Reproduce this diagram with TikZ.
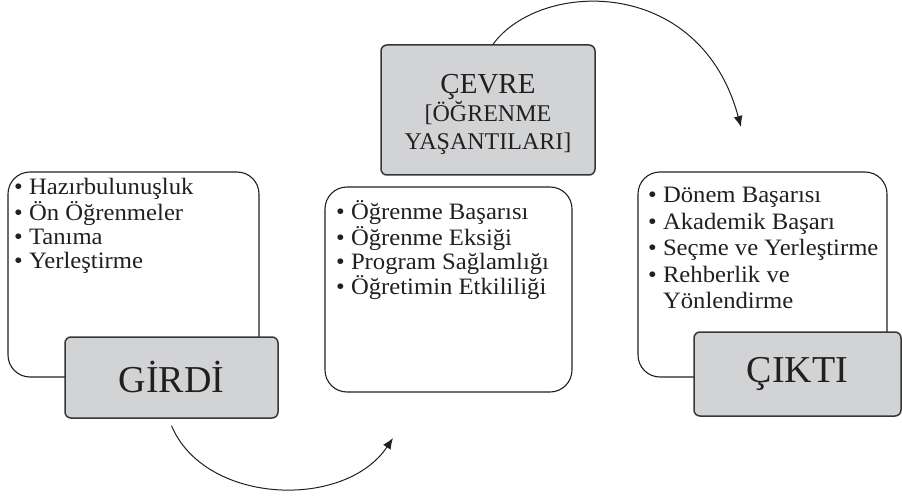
\documentclass[tikz,border=0pt]{standalone}
\usepackage{fontspec}
\usepackage{graphicx}
\setmainfont{Liberation Serif}
\usetikzlibrary{arrows.meta}
\definecolor{boxgray}{RGB}{209,211,212}
\definecolor{lineblk}{RGB}{35,31,32}
\definecolor{grayline}{RGB}{55,55,55}
\newcommand\itm[1]{\hbox{\textbullet\ #1}}
\newcommand\itc[1]{\hbox{\hphantom{\textbullet\ }#1}}
\newcommand\wide[1]{\scalebox{1.05}[1]{#1}}
\begin{document}
\begin{tikzpicture}[x=1pt,y=-1pt,
  whitebox/.style={draw=lineblk, line width=1.1pt, rounded corners=22pt, fill=white, inner sep=0pt},
  graybox/.style={draw=grayline, line width=1.5pt, rounded corners=6pt, fill=boxgray, inner sep=0pt, text=lineblk},
  listtext/.style={anchor=base west, inner sep=0pt, text=lineblk, font=\fontsize{23.5}{24}\selectfont},
  bigtext/.style={font=\fontsize{38}{42}\selectfont},
  arr/.style={draw=lineblk, line width=1pt, -{Latex[length=11pt,width=9pt]}}]
\useasboundingbox (0,0) rectangle (902,497);

% white boxes
\node[whitebox, minimum width=251pt, minimum height=205pt] (inL) at (133.5,274.5) {};
\node[whitebox, minimum width=247pt, minimum height=205pt] (inM) at (448.5,289.5) {};
\node[whitebox, minimum width=249pt, minimum height=205pt] (inR) at (762.5,274.5) {};

% lists
\node[listtext] (listL) at (14,195) {\wide{\vtop{\itm{Hazırbulunuşluk}\itm{Ön Öğrenmeler}\itm{Tanıma}\itm{Yerleştirme}}}};
\node[listtext] (listM) at (336,220) {\wide{\vtop{\itm{Öğrenme Başarısı}\itm{Öğrenme Eksiği}\itm{Program Sağlamlığı}\itm{Öğretimin Etkililiği}}}};
\node[listtext, font=\fontsize{23.5}{26.5}\selectfont] (listR) at (648,203) {\wide{\vtop{\itm{Dönem Başarısı}\itm{Akademik Başarı}\itm{Seçme ve Yerleştirme}\itm{Rehberlik ve}\itc{Yönlendirme}}}};

% gray boxes
\node[graybox, bigtext, minimum width=213pt, minimum height=81pt] (girdi) at (171.5,377.5) {GİRDİ};
\node[graybox, bigtext, minimum width=207pt, minimum height=84pt] (cikti) at (797.5,374) {ÇIKTI};
\node[graybox, minimum width=214pt, minimum height=130pt] (cevre) at (488,110) {};
\node[align=center, inner sep=0pt, text=lineblk, font=\fontsize{24}{28}\selectfont] (cevreT) at (488,114)
  {{\fontsize{29}{31}\selectfont ÇEVRE}\\{[}ÖĞRENME\\YAŞANTILARI]};

% arrows
\coordinate (t1) at ([xshift=5pt]cevre.north);
\coordinate (t2) at (741,127);
\draw[arr] (t1) .. controls (540,-20) and (700,-25) .. (t2);
\coordinate (b1) at ([yshift=-7pt]girdi.south);
\coordinate (b2) at (393,438);
\draw[arr] (b1) .. controls (205,505) and (345,510) .. (b2);
\end{tikzpicture}
\end{document}
